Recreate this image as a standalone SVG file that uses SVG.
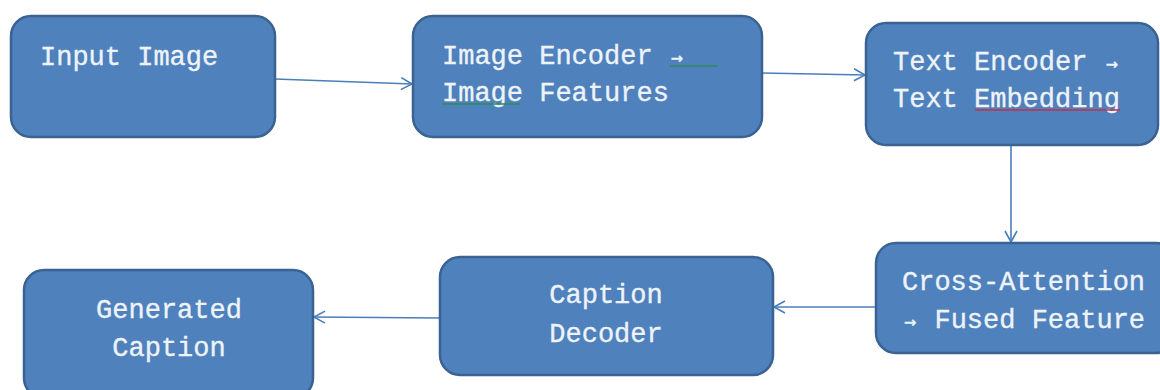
<svg xmlns="http://www.w3.org/2000/svg" width="1160" height="390" viewBox="0 0 1160 390">
<defs>
<style>
.box{fill:#4f81bd;stroke:#3a6292;stroke-width:2.5}
.t{font-family:"Liberation Mono","DejaVu Sans Mono",monospace;font-size:27px;fill:#eef3f8;stroke:#eef3f8;stroke-width:0.35}
.c{text-anchor:middle}
.a{font-family:"DejaVu Sans Mono",monospace;font-size:20px}
.edge{fill:none;stroke:#4a7ebb;stroke-width:1.6}
.sq{fill:none;stroke-width:1.3}
</style>
<marker id="arr" markerWidth="14" markerHeight="14" refX="12" refY="7" orient="auto" markerUnits="userSpaceOnUse">
<path d="M1,1 L12,7 L1,13" fill="none" stroke="#4a7ebb" stroke-width="1.6"/>
</marker>
</defs>
<rect width="1160" height="390" fill="#ffffff"/>
<g id="connectors">
<path class="edge" d="M275,79 L412,84" marker-end="url(#arr)"/>
<path class="edge" d="M762,73 L865,75" marker-end="url(#arr)"/>
<path class="edge" d="M1011,145 L1011,242" marker-end="url(#arr)"/>
<path class="edge" d="M876,307 L774,307" marker-end="url(#arr)"/>
<path class="edge" d="M440,318 L314,317" marker-end="url(#arr)"/>
</g>
<g id="n1">
<rect class="box" x="11" y="16" width="264" height="121" rx="20"/>
<text class="t" x="40" y="65">Input Image</text>
</g>
<g id="n2">
<rect class="box" x="413" y="16" width="349" height="121" rx="20"/>
<text class="t" x="442" y="64">Image Encoder <tspan class="a" dx="2">→</tspan></text>
<text class="t" x="442" y="101">Image Features</text>
<path class="sq" d="M670,66 L718,66" stroke="#2e8b57"/>
<path class="sq" d="M442,104 L520,104" stroke="#2e8b57"/>
</g>
<g id="n3">
<rect class="box" x="866" y="23" width="292" height="122" rx="20"/>
<text class="t" x="893" y="70">Text Encoder <tspan class="a" dx="2">→</tspan></text>
<text class="t" x="893" y="107">Text Embedding</text>
<path class="sq" d="M975,110 L1120,110" stroke="#c0304a"/>
</g>
<g id="n4">
<rect class="box" x="876" y="243" width="300" height="110" rx="20"/>
<text class="t" x="902" y="290">Cross-Attention</text>
<text class="t" x="902" y="328"><tspan class="a" dx="2">→</tspan><tspan dx="2.2"> Fused Feature</tspan></text>
</g>
<g id="n5">
<rect class="box" x="440" y="257" width="333" height="118" rx="20"/>
<text class="t c" x="606" y="303">Caption</text>
<text class="t c" x="606" y="342">Decoder</text>
</g>
<g id="n6">
<rect class="box" x="24" y="270" width="289" height="128" rx="20"/>
<text class="t c" x="169" y="318">Generated</text>
<text class="t c" x="169" y="356">Caption</text>
</g>
</svg>
